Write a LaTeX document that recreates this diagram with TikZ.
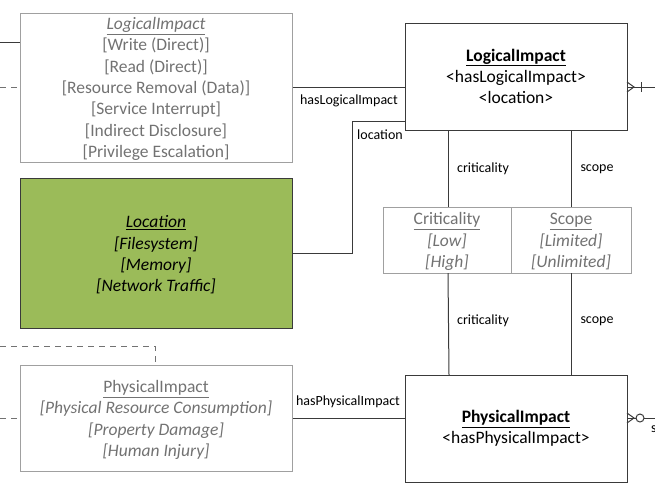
\documentclass[tikz,border=0pt]{standalone}
\usepackage{fontspec}
\setmainfont{Carlito}
\usetikzlibrary{positioning}
\definecolor{txtgray}{HTML}{727272}
\definecolor{boxgray}{HTML}{A0A0A0}
\definecolor{lnc}{HTML}{3A3A3A}
\definecolor{locgreen}{HTML}{9BBB59}
\tikzset{
  listbox/.style={draw=boxgray, line width=0.8pt, minimum width=272pt, inner sep=0pt},
  mainbox/.style={draw=lnc, line width=1pt, minimum width=222pt, minimum height=107pt, inner sep=0pt},
  conn/.style={draw=lnc, line width=1pt},
  dconn/.style={draw=txtgray, line width=1pt, dash pattern=on 6pt off 5pt},
  lbl/.style={font=\fontsize{14}{16}\selectfont, text=black, inner sep=0pt},
  gtxt/.style={text=txtgray, align=center, font=\fontsize{17.5}{21.3}\selectfont, inner sep=0pt},
  btxt/.style={text=black, align=center, font=\fontsize{17.5}{21.3}\selectfont, inner sep=0pt},
}
\begin{document}
\begin{tikzpicture}[x=1pt,y=-1pt]
\useasboundingbox (0,0) rectangle (655,499);
\clip (0,0) rectangle (655,499);

% left list boxes
\node[listbox, minimum height=149pt, anchor=north west] (li) at (20,13) {};
\node[gtxt] (litxt) at (156,89) {\textit{\underline{LogicalImpact}}\\{}[Write (Direct)]\\{}[Read (Direct)]\\{}[Resource Removal (Data)]\\{}[Service Interrupt]\\{}[Indirect Disclosure]\\{}[Privilege Escalation]};

\node[listbox, draw=lnc, fill=locgreen, minimum height=150pt, anchor=north west] (loc) at (20,178) {};
\node[btxt] (loctxt) at (156,255) {\textit{\underline{Location}}\\\textit{[Filesystem]}\\\textit{[Memory]}\\\textit{[Network Traffic]}};

\node[listbox, minimum height=106pt, anchor=north west] (pi) at (20,365) {};
\node[gtxt] (pitxt) at (156,420) {\underline{PhysicalImpact}\\\textit{[Physical Resource Consumption]}\\\textit{[Property Damage]}\\\textit{[Human Injury]}};

% main boxes
\node[mainbox, anchor=north west] (LI) at (405,23) {};
\node[btxt] (LItxt) at (516,76.5) {\textbf{\underline{LogicalImpact}}\\<hasLogicalImpact>\\<location>};

\node[mainbox, anchor=north west] (PI) at (405,375) {};
\node[btxt] (PItxt) at (516,428.5) {\textbf{\underline{PhysicalImpact}}\\<hasPhysicalImpact>};

% criticality / scope
\node[draw=boxgray, line width=0.8pt, minimum width=128pt, minimum height=66pt, anchor=north west, inner sep=0pt] (crit) at (383,207) {};
\node[draw=boxgray, line width=0.8pt, minimum width=120pt, minimum height=66pt, anchor=north west, inner sep=0pt] (scope) at (511,207) {};
\node[gtxt] (crittxt) at (447,241.5) {\underline{Criticality}\\\textit{[Low]}\\\textit{[High]}};
\node[gtxt] (scopetxt) at (571,241.5) {\underline{Scope}\\\textit{[Limited]}\\\textit{[Unlimited]}};

% left stubs
\coordinate (s1) at (0,42);
\coordinate (s2) at (0,87);
\coordinate (s3) at (0,346);
\coordinate (s4) at (0,418);
\draw[conn] (s1) -- (li.west |- s1);
\draw[dconn] (s2) -- (li.west |- s2);
\draw[dconn] (s3) -- (155,346) -- (155,365);
\draw[dconn] (s4) -- (pi.west |- s4);

% connectors
\draw[conn] (li.east |- 0,87) -- (LI.west |- 0,87);
\node[lbl] (l1) at (349,101) {hasLogicalImpact};

\draw[conn] (loc.east |- 0,253) -- (352,253) -- (352,121) -- (LI.west |- 0,121);
\node[lbl] (l2) at (380,135) {location};

\draw[conn] (448,130) -- (448,207);
\node[lbl] (l3) at (483,169) {criticality};
\draw[conn] (571,130) -- (571,207);
\node[lbl] (l4) at (597,169) {scope};

\draw[conn] (448,273) -- (449,375);
\node[lbl] (l5) at (483,321) {criticality};
\draw[conn] (571,273) -- (571,375);
\node[lbl] (l6) at (597,321) {scope};

\draw[conn] (pi.east |- 0,418) -- (PI.west |- 0,418);
\node[lbl] (l7) at (348,402) {hasPhysicalImpact};

% right crow's feet
\coordinate (r1) at (655,87);
\draw[conn] (LI.east |- 0,87) -- (r1);
\draw[conn] (627,82) -- (634,87) -- (627,92);
\draw[conn] (641,82) -- (641,92);

\coordinate (r2) at (655,418);
\draw[conn] (PI.east |- 0,418) -- (636,418);
\draw[conn] (644,418) -- (r2);
\draw[conn] (627,413) -- (634,418) -- (627,423);
\draw[conn] (640,418) circle (4);
\node[lbl, anchor=west] (l8) at (651,429) {s};
\end{tikzpicture}
\end{document}
